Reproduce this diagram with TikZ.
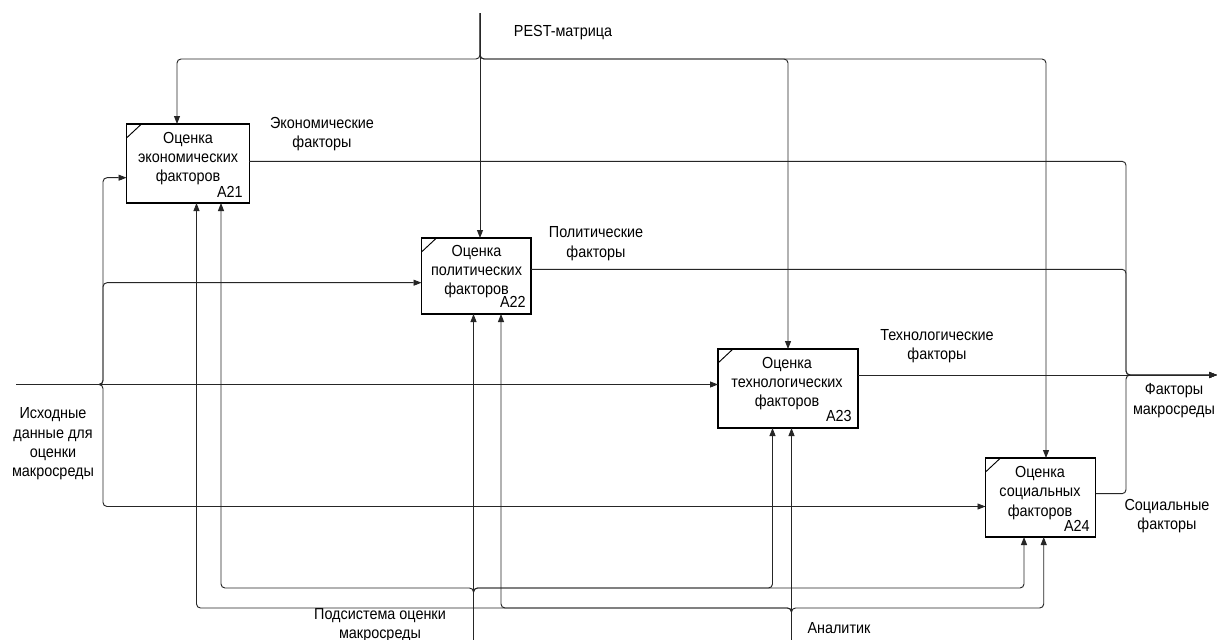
\documentclass[tikz,border=0pt]{standalone}
\usepackage{fontspec}
\setmainfont{Liberation Sans}[FakeStretch=0.9]
\usetikzlibrary{arrows.meta,calc}
\begin{document}
\begin{tikzpicture}[x=0.75pt,y=-0.75pt,
  line/.style={draw=black!85, line width=0.7pt, rounded corners=3pt},
  arr/.style={line, -{Triangle[length=6pt,width=4.5pt]}},
  box/.style={draw=black, line width=0.8pt, inner sep=0pt, outer sep=0pt, anchor=north west},
  lbl/.style={font=\fontsize{12}{14.5}\selectfont, align=center, inner sep=0pt},
  num/.style={font=\fontsize{12}{12}\selectfont, inner sep=0pt, anchor=base east}]
\clip (0,0) rectangle (1219,639);
\fill[white] (0,0) rectangle (1219,639);

% boxes
\node[box, minimum width=91.9pt, minimum height=59.25pt] (A21) at (126.5,124) {};
\node[box, minimum width=82.1pt, minimum height=57pt] (A22) at (421.5,238) {};
\node[box, minimum width=105pt, minimum height=59.25pt] (A23) at (718,349) {};
\node[box, minimum width=82.5pt, minimum height=59.25pt] (A24) at (985.5,458) {};
\foreach \b in {A21,A22,A23,A24}{
  \draw[line width=0.7pt] ($(\b.north west)+(0,14)$) -- ($(\b.north west)+(15,0)$);
}

% box texts
\node[lbl] (A21t) at (188,158.7) {Оценка\\экономических\\факторов};
\node[num] (A21n) at (243,197.5) {A21};
\node[lbl] (A22t) at (476.5,271.5) {Оценка\\политических\\факторов};
\node[num] (A22t2) at (526,307.5) {A22};
\node[lbl] (A23t) at (787,383.5) {Оценка\\технологических\\факторов};
\node[num] (A23n) at (852,421.5) {A23};
\node[lbl] (A24t) at (1040,493) {Оценка\\социальных\\факторов};
\node[num] (A24n) at (1090,531.5) {A24};

% labels
\node[lbl] (pestL) at (563,33) {PEST-матрица};
\node[lbl] (ecoL) at (322,134) {Экономические\\факторы};
\node[lbl] (polL) at (596,243.5) {Политические\\факторы};
\node[lbl] (techL) at (937,346) {Технологические\\факторы};
\node[lbl] (outL) at (1174,400.5) {Факторы\\макросреды};
\node[lbl] (socL) at (1167,516) {Социальные\\факторы};
\node[lbl] (inL) at (53,444) {Исходные\\данные для\\оценки\\макросреды};
\node[lbl] (subL) at (380,625) {Подсистема оценки\\макросреды};
\node[lbl] (anL) at (839,628) {Аналитик};

% junction coordinates
\coordinate (pestTop) at (480,13);
\coordinate (pestJ) at (480,59);
\coordinate (inStart) at (16,384.5);
\coordinate (inJ) at (103,384.5);
\coordinate (outJ) at (1126,375);
\coordinate (outEnd) at (1217,375);
\coordinate (subBot) at (473.5,645);
\coordinate (subJ) at (473.5,588);
\coordinate (anBot) at (791.5,645);
\coordinate (anJ) at (791.5,608);

% controls
\draw[arr] (pestTop) -- (pestTop |- A22.north);
\draw[arr] (pestTop) -- (pestJ) -| (177,0 |- A21.north);
\draw[arr] (pestTop) -- (pestJ) -| (788,0 |- A23.north);
\draw[arr] (pestTop) -- (pestJ) -| (1046,0 |- A24.north);

% inputs
\draw[arr] (inStart) -- (inStart -| A23.west);
\draw[arr] (inStart) -- (inJ) |- (A22.west |- 0,282.7);
\draw[arr] (inStart) -- (inJ) |- (A21.west |- 0,177.7);
\draw[arr] (inStart) -- (inJ) |- (A24.west |- 0,506.5);

% outputs
\draw[arr] (A23.east |- outJ) -- (outEnd);
\draw[arr] (A21.east |- 0,161.3) -| (outJ) -- (outEnd);
\draw[arr] (A22.east |- 0,269.3) -| (outJ) -- (outEnd);
\draw[arr] (A24.east |- 0,493.7) -| (outJ) -- (outEnd);

% mechanisms
\draw[arr] (subBot) -- (subBot |- A22.south);
\draw[arr] (subBot) -- (subJ) -| (221,0 |- A21.south);
\draw[arr] (subBot) -- (subJ) -| (772.5,0 |- A23.south);
\draw[arr] (subBot) -- (subJ) -| (1024,0 |- A24.south);
\draw[arr] (anBot) -- (anBot |- A23.south);
\draw[arr] (anBot) -- (anJ) -| (501,0 |- A22.south);
\draw[arr] (anBot) -- (anJ) -| (196.5,0 |- A21.south);
\draw[arr] (anBot) -- (anJ) -| (1043.7,0 |- A24.south);
\end{tikzpicture}
\end{document}
